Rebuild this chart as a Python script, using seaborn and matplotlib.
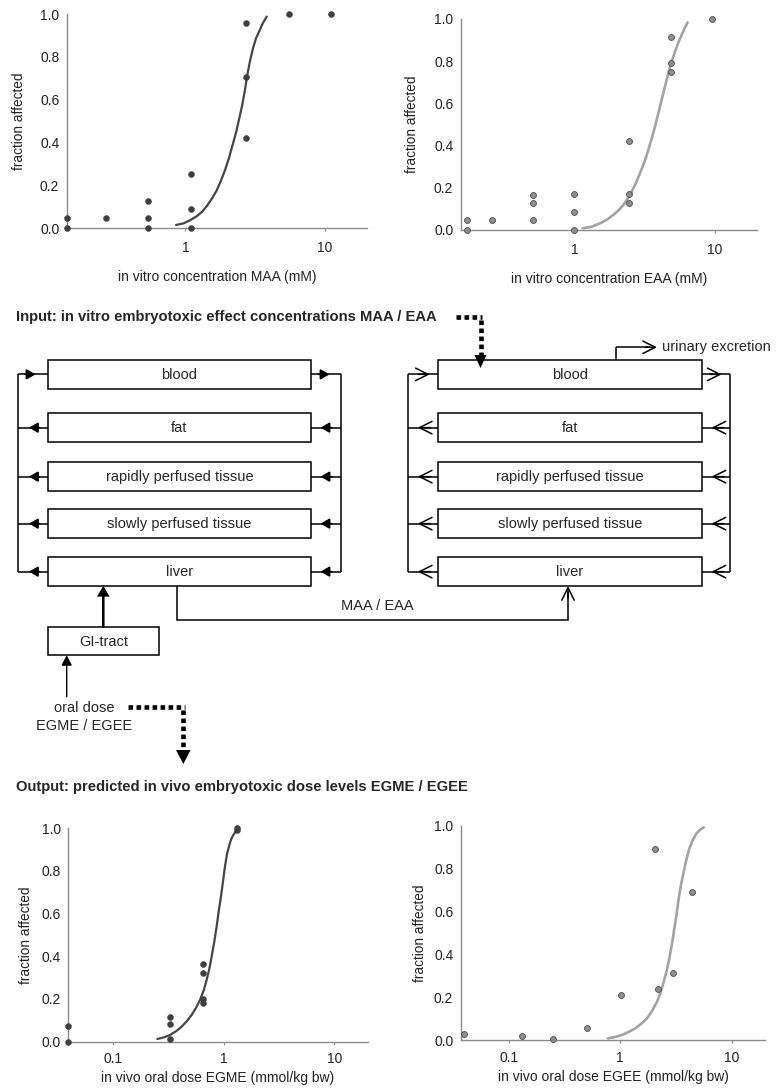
import numpy as np
import pandas as pd
import seaborn as sns
import matplotlib
matplotlib.use("Agg")
import matplotlib.pyplot as plt
from matplotlib.patches import Rectangle

# ---------------- data ----------------
maa_x = [0.142, 0.142, 0.27, 0.54, 0.54, 0.54, 1.09, 1.09, 1.09, 2.73, 2.73, 2.73, 5.5, 11.0]
maa_y = [0.0, 0.045, 0.045, 0.0, 0.045, 0.125, 0.0, 0.088, 0.252, 0.419, 0.707, 0.959, 1.0, 1.0]
maa_fit_x = [0.857, 0.973, 1.087, 1.213, 1.318, 1.432, 1.555, 1.671, 1.785, 1.918, 2.05, 2.18,
             2.315, 2.432, 2.556, 2.673, 2.777, 2.903, 3.051, 3.206, 3.41, 3.60, 3.83]
maa_fit_y = [0.014, 0.022, 0.037, 0.056, 0.076, 0.104, 0.139, 0.174, 0.216, 0.268, 0.326, 0.388,
             0.450, 0.512, 0.575, 0.645, 0.715, 0.780, 0.840, 0.886, 0.925, 0.959, 0.988]

eaa_x = [0.169, 0.169, 0.252, 0.50, 0.50, 0.50, 0.98, 0.98, 0.98, 2.44, 2.44, 2.44, 4.82, 4.82, 4.82, 9.6]
eaa_y = [0.0, 0.045, 0.045, 0.045, 0.125, 0.165, 0.0, 0.085, 0.168, 0.128, 0.168, 0.421, 0.748, 0.79, 0.916, 1.0]
eaa_fit_x = [1.129, 1.31, 1.502, 1.695, 1.871, 2.044, 2.207, 2.371, 2.532, 2.72, 2.905, 3.12, 3.333,
             3.521, 3.72, 3.929, 4.152, 4.386, 4.634, 4.896, 5.172, 5.465, 5.773, 6.066, 6.375]
eaa_fit_y = [0.0065, 0.0144, 0.030, 0.049, 0.070, 0.092, 0.117, 0.147, 0.180, 0.222, 0.268, 0.320, 0.378,
             0.432, 0.489, 0.552, 0.616, 0.679, 0.742, 0.797, 0.845, 0.888, 0.924, 0.956, 0.984]

egme_x = [0.039, 0.039, 0.325, 0.325, 0.325, 0.65, 0.65, 0.65, 0.65, 1.30, 1.30]
egme_y = [0.0, 0.075, 0.012, 0.083, 0.114, 0.183, 0.198, 0.323, 0.364, 0.99, 1.0]
egme_fit_x = [0.2492, 0.2864, 0.3246, 0.3678, 0.4138, 0.4595, 0.5098, 0.5579, 0.6065, 0.6547, 0.6967,
              0.7364, 0.7732, 0.8176, 0.8583, 0.8947, 0.9394, 0.9795, 1.021, 1.064, 1.118, 1.165,
              1.214, 1.302]
egme_fit_y = [0.0126, 0.0204, 0.0314, 0.0485, 0.0703, 0.0953, 0.125, 0.158, 0.195, 0.239, 0.289,
              0.340, 0.398, 0.468, 0.538, 0.608, 0.679, 0.749, 0.819, 0.877, 0.920, 0.949,
              0.967, 0.991]

egee_x = [0.039, 0.13, 0.25, 0.50, 1.02, 2.04, 2.19, 2.98, 4.43]
egee_y = [0.03, 0.022, 0.008, 0.055, 0.21, 0.892, 0.239, 0.312, 0.692]
egee_fit_x = [0.774, 0.901, 1.035, 1.189, 1.365, 1.546, 1.739, 1.929, 2.14, 2.309, 2.457, 2.615, 2.763,
              2.92, 3.065, 3.218, 3.354, 3.521, 3.721, 3.932, 4.184, 4.485, 4.838, 5.258, 5.633]
egee_fit_y = [0.0092, 0.0154, 0.0247, 0.0387, 0.0558, 0.0775, 0.1024, 0.1365, 0.180, 0.2235, 0.273,
              0.3245, 0.382, 0.452, 0.522, 0.592, 0.662, 0.727, 0.786, 0.843, 0.895, 0.933,
              0.964, 0.983, 0.992]

y_ticks = [0.0, 0.2, 0.4, 0.6, 0.8, 1.0]
y_tick_labels = ["0.0", "0.2", "0.4", "0.6", "0.8", "1.0"]
x_ticks_top = [1, 10]
x_tick_labels_top = ["1", "10"]
x_ticks_bottom = [0.1, 1, 10]
x_tick_labels_bottom = ["0.1", "1", "10"]

compartments = ["blood", "fat", "rapidly perfused tissue", "slowly perfused tissue", "liver"]

# ---------------- style ----------------
sns.set_theme(style="white")
plt.rcParams["font.family"] = ["Liberation Sans", "DejaVu Sans"]

W, H = 777, 1090
fig = plt.figure(figsize=(W / 100, H / 100), dpi=100)

# diagram layer in pixel coordinates
axd = fig.add_axes([0, 0, 1, 1])
axd.set_xlim(0, W)
axd.set_ylim(H, 0)
axd.axis("off")
axd.patch.set_alpha(0)


def px_axes(l, r, t, b):
    return fig.add_axes([l / W, 1 - b / H, (r - l) / W, (b - t) / H])


DARK = "#3f3f3f"
LIGHT_FILL = "#8e8e8e"
LIGHT_LINE = "#a3a3a3"
SPINE = "#8a8a8a"
TXT = "#222222"


def make_plot(rect, xs, ys, fx, fy, xlim, xticks, xlabels, xlabel, light, tpad, labelpad, ylpad):
    ax = px_axes(*rect)
    pts = pd.DataFrame({"x": xs, "y": ys})
    fit = pd.DataFrame({"x": fx, "y": fy})
    if light:
        sns.lineplot(data=fit, x="x", y="y", ax=ax, color=LIGHT_LINE, lw=1.9, zorder=2)
        sns.scatterplot(data=pts, x="x", y="y", ax=ax, color=LIGHT_FILL, edgecolor="#4a4a4a",
                        linewidth=0.6, s=18, zorder=3, clip_on=False)
    else:
        sns.lineplot(data=fit, x="x", y="y", ax=ax, color="#454545", lw=1.6, zorder=2)
        sns.scatterplot(data=pts, x="x", y="y", ax=ax, color=DARK, edgecolor=DARK,
                        linewidth=0.3, s=19, zorder=3, clip_on=False)
    ax.set_xscale("log")
    ax.set_xlim(*xlim)
    ax.set_ylim(0, 1.0)
    ax.set_xticks(xticks)
    ax.set_xticklabels(xlabels)
    ax.minorticks_off()
    ax.set_yticks(y_ticks)
    ax.set_yticklabels(y_tick_labels)
    for s in ["top", "right"]:
        ax.spines[s].set_visible(False)
    for s in ["left", "bottom"]:
        ax.spines[s].set_color(SPINE)
        ax.spines[s].set_linewidth(1.0)
    ax.tick_params(axis="x", length=2, width=0.8, color=SPINE, pad=tpad, labelsize=10,
                   labelcolor=TXT, bottom=True)
    ax.tick_params(axis="y", length=0, pad=5.5, labelsize=10, labelcolor=TXT, left=True)
    ax.set_xlabel(xlabel, fontsize=10, color=TXT, labelpad=labelpad)
    ax.set_ylabel("fraction affected", fontsize=9.8, color=TXT, labelpad=ylpad)
    ax.patch.set_alpha(0)
    return ax


make_plot((67, 367, 14, 228), maa_x, maa_y, maa_fit_x, maa_fit_y, (0.142, 20),
          x_ticks_top, x_tick_labels_top, "in vitro concentration MAA (mM)", False, 7.5, 11, 10)
make_plot((461, 757, 19, 229.7), eaa_x, eaa_y, eaa_fit_x, eaa_fit_y, (0.152, 20),
          x_ticks_top, x_tick_labels_top, "in vitro concentration EAA (mM)", True, 7.5, 11, 11)
make_plot((68.3, 367.7, 828, 1041.7), egme_x, egme_y, egme_fit_x, egme_fit_y, (0.039, 20),
          x_ticks_bottom, x_tick_labels_bottom, "in vivo oral dose EGME (mmol/kg bw)", False, 5.5, 3.5, 6)
make_plot((461, 765, 825.7, 1040.3), egee_x, egee_y, egee_fit_x, egee_fit_y, (0.037, 20),
          x_ticks_bottom, x_tick_labels_bottom, "in vivo oral dose EGEE (mmol/kg bw)", True, 5.5, 3.5, 5)

# ---------------- diagram ----------------
K = "black"
LW = 1.1
FS = 10.5


def line(xs, ys, lw=LW, **kw):
    axd.plot(xs, ys, color=K, lw=lw, solid_capstyle="butt", solid_joinstyle="miter", **kw)


def head(tip, frm, filled=True, lw=LW, hl=0.55, hw=0.32, ms=10):
    style = f"-|>,head_length={hl},head_width={hw}" if filled else f"->,head_length={hl},head_width={hw}"
    axd.annotate("", xy=tip, xytext=frm,
                 arrowprops=dict(arrowstyle=style, color=K, lw=lw, shrinkA=0, shrinkB=0,
                                 mutation_scale=ms, joinstyle="miter"))


box_tops = [360, 413.3, 462.3, 509.3, 557.3]
box_h = 28.7
mids = [t + box_h / 2 for t in box_tops]

for (bl, br, vl, vr, filled) in [(48.3, 310.7, 18.3, 340.7, True), (438.3, 701.7, 408.3, 730, False)]:
    for i, (t, name) in enumerate(zip(box_tops, compartments)):
        axd.add_patch(Rectangle((bl, t), br - bl, box_h, fill=False, ec=K, lw=LW))
        axd.text((bl + br) / 2, t + box_h / 2 + 0.5, name, ha="center", va="center", fontsize=FS)
        m = mids[i]
        line([vl, bl], [m, m])
        line([br, vr], [m, m])
        if filled:
            if i == 0:
                head((35.5, m), (25, m), filled=True)
                head((329.5, m), (318, m), filled=True)
            else:
                head((29.0, m), (40, m), filled=True)
                head((320.5, m), (332, m), filled=True)
        else:
            if i == 0:
                head((bl - 8.5, m), (bl - 20, m), filled=False, hl=0.9, hw=0.45)
                head((br + 20, m), (br + 8, m), filled=False, hl=0.9, hw=0.45)
            else:
                head((vl + 9.5, m), (vl + 22, m), filled=False, hl=0.9, hw=0.45)
                head((vr - 18.5, m), (vr - 6, m), filled=False, hl=0.9, hw=0.45)
    line([vl, vl], [mids[0], mids[-1]])
    line([vr, vr], [mids[0], mids[-1]])

# urinary excretion
line([616, 616], [360, 347.3])
line([616, 650], [347.3, 347.3])
head((657, 347.3), (645, 347.3), filled=False, hl=0.9, hw=0.45)
axd.text(661.5, 346.5, "urinary excretion", ha="left", va="center", fontsize=FS)

# liver (left) -> liver (right) : MAA / EAA
liver_bottom = box_tops[-1] + box_h
line([176.7, 176.7, 568, 568], [liver_bottom, 620, 620, liver_bottom + 6])
head((568, liver_bottom), (568, liver_bottom + 12), filled=False, hl=0.9, hw=0.45)
axd.text(377.5, 606, "MAA / EAA", ha="center", va="center", fontsize=FS)

# GI tract
axd.add_patch(Rectangle((48.3, 626.7), 159 - 48.3, 28.6, fill=False, ec=K, lw=LW))
axd.text(103.6, 641.5, "GI-tract", ha="center", va="center", fontsize=FS)
head((103.3, liver_bottom), (103.3, 626.7), filled=True, lw=1.8, hl=0.5, hw=0.3)
head((66.7, 655.3), (66.7, 696.7), filled=True, lw=1.0, hl=0.6, hw=0.32)
axd.text(84.5, 708, "oral dose", ha="center", va="center", fontsize=FS)
axd.text(84, 725.5, "EGME / EGEE", ha="center", va="center", fontsize=FS)

# titles
axd.text(16, 316.5, "Input: in vitro embryotoxic effect concentrations MAA / EAA",
         ha="left", va="center", fontsize=10.6, fontweight="bold")
axd.text(16, 787, "Output: predicted in vivo embryotoxic dose levels EGME / EGEE",
         ha="left", va="center", fontsize=10.6, fontweight="bold")

# dotted arrows
DOT = dict(color=K, lw=3.3, linestyle=(0, (1, 0.75)), solid_capstyle="butt", dash_capstyle="butt")
axd.plot([456, 482], [316.5, 316.5], **DOT)
axd.plot([480.5, 480.5], [320, 356], **DOT)
axd.fill([474.5, 486.5, 480.5], [355, 355, 368], color=K, lw=0)
axd.plot([128.3, 185], [706.7, 706.7], **DOT)
axd.plot([183.3, 183.3], [710, 751], **DOT)
axd.fill([176, 190.6, 183.3], [750, 750, 764], color=K, lw=0)

fig.savefig("out.png", dpi=100)
